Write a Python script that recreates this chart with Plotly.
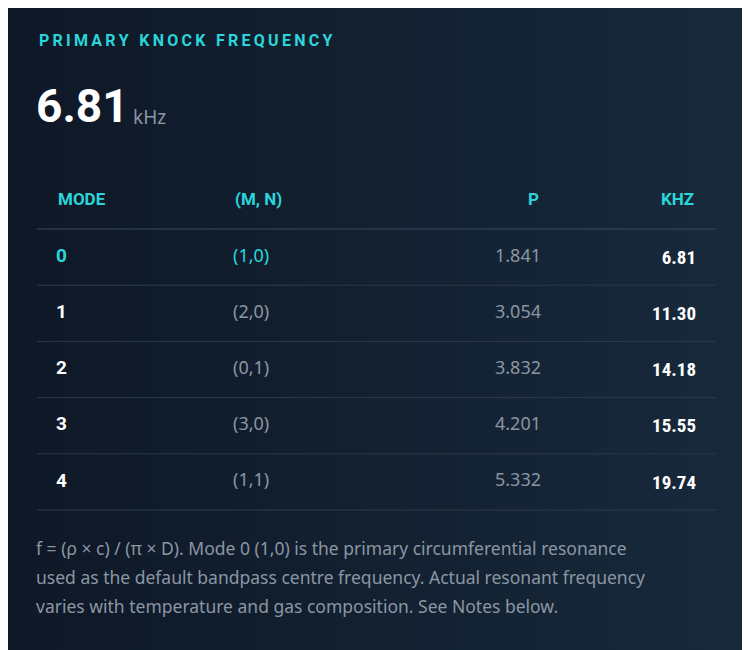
import plotly.graph_objs as go

# Table data
modes = ["0", "1", "2", "3", "4"]
mn_pairs = ["(1,0)", "(2,0)", "(0,1)", "(3,0)", "(1,1)"]
p_values = [1.841, 3.054, 3.832, 4.201, 5.332]
khz_values = [6.81, 11.30, 14.18, 15.55, 19.74]
headers = ["MODE", "(M, N)", "P", "KHZ"]

primary_label = "PRIMARY KNOCK FREQUENCY"
primary_value = "6.81"
primary_unit = "kHz"
footnote = ["f = (ρ × c) / (π × D). Mode 0 (1,0) is the primary circumferential resonance",
            "used as the default bandpass centre frequency. Actual resonant frequency",
            "varies with temperature and gas composition. See Notes below."]

W, H = 750, 650
OFF = 8  # page body margin
CYAN = "#2ad6da"
GREY = "#8b96a3"
WHITE = "#ffffff"
LINE = "#2c3a4a"

# layout in pixels
row_top = 229
row_h = 56.2
header_y = 199
col_x = [56, 233, 541, 696]
col_anchor = ["left", "left", "right", "right"]
FONT = "Roboto"
BODY = "Noto Sans"


def spaced(s):
    return "\u2009".join(s)


fig = go.Figure()

# background
fig.add_trace(go.Scatter(
    x=[-20, W + 20, W + 20, -20, -20], y=[-20, -20, H + 20, H + 20, -20],
    mode="lines", fill="toself", line=dict(width=0),
    fillgradient=dict(type="horizontal",
                      colorscale=[[0, "#0e1726"], [1, "#172a3c"]]),
    hoverinfo="skip", showlegend=False))

rows_y = [row_top + row_h * (i + 0.5) for i in range(len(modes))]

# highlighted primary row + row separators
fig.add_shape(type="rect", x0=37, x1=716, y0=row_top, y1=row_top + row_h,
              fillcolor="rgba(30,70,85,0.35)", line_width=0, layer="below")
for i in range(len(modes) + 1):
    y = row_top + row_h * i
    fig.add_shape(type="line", x0=37, x1=716, y0=y, y1=y,
                  line=dict(color=LINE if i else "#3a4a5a", width=1))

# headers
for x, h, a in zip(col_x, headers, col_anchor):
    fig.add_annotation(x=x, y=header_y, text="<b>" + h + "</b>",
                       xanchor=a, showarrow=False,
                       font=dict(family=FONT, size=17, color=CYAN))

# cells
mode_colors = [CYAN if i == 0 else WHITE for i in range(len(modes))]
mn_colors = [CYAN if i == 0 else GREY for i in range(len(modes))]
fig.add_trace(go.Scatter(x=[col_x[0]] * len(modes), y=rows_y, mode="text",
                         text=["<b>" + m + "</b>" for m in modes],
                         textposition="middle right",
                         textfont=dict(family=FONT, size=19, color=mode_colors),
                         showlegend=False, hoverinfo="skip"))
fig.add_trace(go.Scatter(x=[col_x[1]] * len(modes), y=rows_y, mode="text",
                         text=mn_pairs, textposition="middle right",
                         textfont=dict(family=BODY, size=18, color=mn_colors),
                         showlegend=False, hoverinfo="skip"))
fig.add_trace(go.Scatter(x=[col_x[2]] * len(modes), y=rows_y, mode="text",
                         text=[f"{p:.3f}" for p in p_values],
                         textposition="middle left",
                         textfont=dict(family=BODY, size=18, color=GREY),
                         showlegend=False, hoverinfo="skip"))
fig.add_trace(go.Scatter(x=[col_x[3]] * len(modes), y=[y + 2 for y in rows_y],
                         mode="text",
                         text=[f"<b>{k:.2f}</b>" for k in khz_values],
                         textposition="middle left",
                         textfont=dict(family="Roboto Condensed, Roboto", size=19, color=WHITE),
                         showlegend=False, hoverinfo="skip"))

# title block
fig.add_annotation(x=37, y=40, text="<b>" + spaced(primary_label) + "</b>",
                   xanchor="left", showarrow=False,
                   font=dict(family=FONT, size=16, color=CYAN))
fig.add_annotation(x=34, y=106, text="<b>" + primary_value + "</b>",
                   xanchor="left", showarrow=False,
                   font=dict(family=FONT, size=46, color=WHITE))
fig.add_annotation(x=131, y=117, text=primary_unit,
                   xanchor="left", showarrow=False,
                   font=dict(family=BODY, size=19, color=GREY))

# footnote
for i, line in enumerate(footnote):
    fig.add_annotation(x=34, y=548 + 29 * i, text=line, xanchor="left",
                       showarrow=False,
                       font=dict(family=BODY, size=17.5, color=GREY))

fig.update_layout(
    width=W, height=H, margin=dict(l=0, r=0, t=0, b=0),
    paper_bgcolor="#111c2b", plot_bgcolor="rgba(0,0,0,0)",
    xaxis=dict(range=[OFF, W + OFF], visible=False, fixedrange=True),
    yaxis=dict(range=[H + OFF, OFF], visible=False, fixedrange=True),
    showlegend=False,
)

fig.write_html("out.html")
